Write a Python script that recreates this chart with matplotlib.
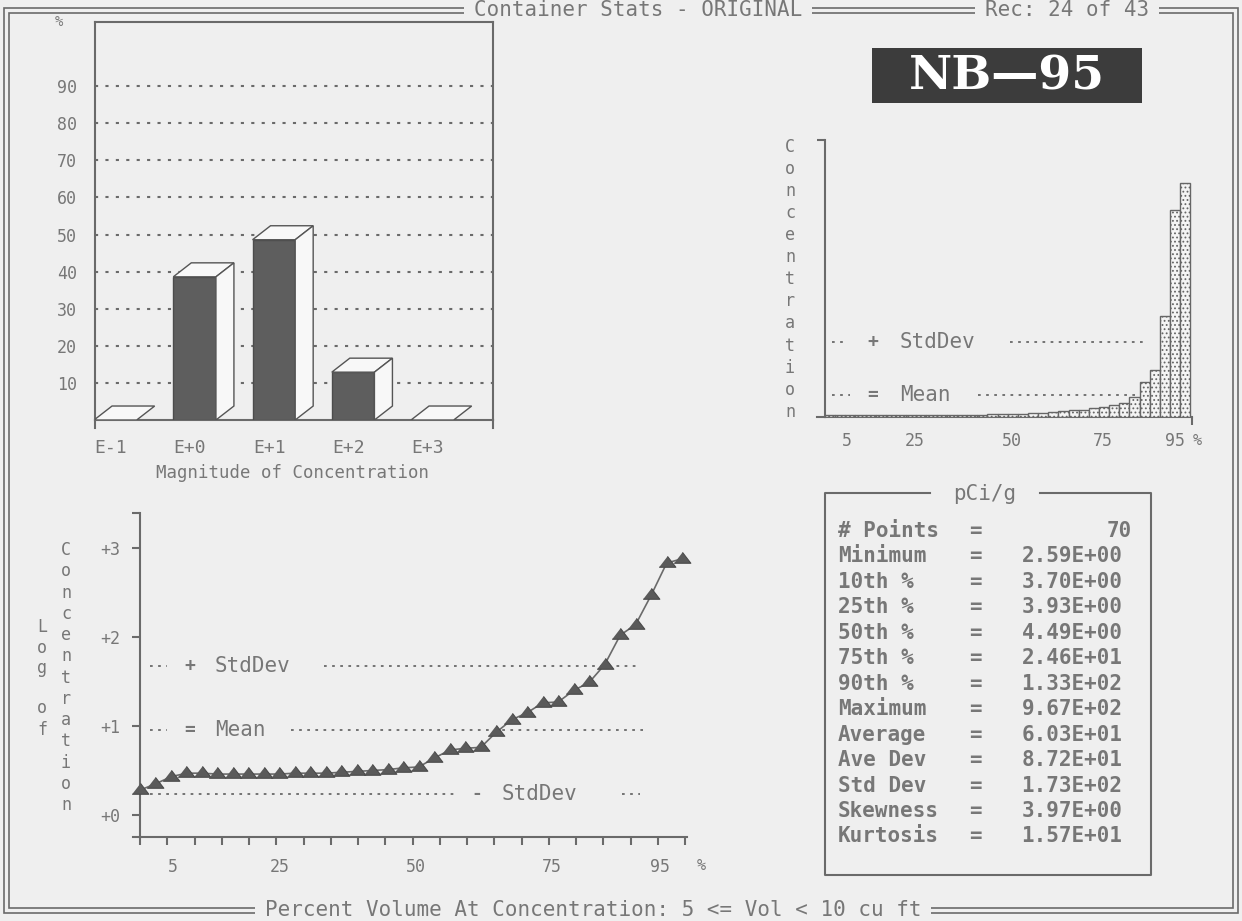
import matplotlib
matplotlib.use("Agg")
import matplotlib.pyplot as plt
from matplotlib.patches import Polygon, Rectangle
import numpy as np

W, H = 1242, 921
BG = '#efefef'
INK = '#6a6a6a'
TXT = '#777777'
MONO = 'DejaVu Sans Mono'
plt.rcParams['font.family'] = MONO
plt.rcParams['hatch.linewidth'] = 0.8

# --- data ---
mag_labels = ['E-1', 'E+0', 'E+1', 'E+2', 'E+3']
mag_pct = [0.0, 38.6, 48.6, 12.9, 0.0]

# sorted concentrations, linear (top right) and log (bottom left)
conc = [8, 8, 8, 8, 8, 8, 8, 8, 8, 8, 8, 8, 8, 8, 8, 8,
        12, 12, 12, 12, 17, 17, 21, 25, 29, 29, 37, 41, 50, 58,
        83, 145, 194, 417, 855, 967]
conc_mean = 91
conc_plus_sd = 308

log_conc = [0.28, 0.35, 0.43, 0.47, 0.47, 0.46, 0.46, 0.46, 0.46, 0.46,
            0.47, 0.47, 0.47, 0.48, 0.49, 0.50, 0.51, 0.53, 0.54, 0.64,
            0.73, 0.75, 0.76, 0.93, 1.07, 1.15, 1.26, 1.27, 1.40, 1.49,
            1.69, 2.02, 2.14, 2.47, 2.83, 2.88]
log_mean = 0.955
log_plus_sd = 1.67
log_minus_sd = 0.236

pct_labels = ['5', '25', '50', '75', '95']
pct_pos_lin = [2.14, 8.87, 18.39, 27.42, 34.48]
pct_pos_log = [2.11, 9.04, 17.8, 26.57, 33.6]

stat_names = ['# Points', 'Minimum', '10th %', '25th %', '50th %', '75th %',
              '90th %', 'Maximum', 'Average', 'Ave Dev', 'Std Dev',
              'Skewness', 'Kurtosis']
stat_values = ['70', '2.59E+00', '3.70E+00', '3.93E+00', '4.49E+00', '2.46E+01',
               '1.33E+02', '9.67E+02', '6.03E+01', '8.72E+01', '1.73E+02',
               '3.97E+00', '1.57E+01']

fig = plt.figure(figsize=(W / 100, H / 100), dpi=100, facecolor=BG)


def px_axes(x0, y0, x1, y1):
    a = fig.add_axes([x0 / W, 1 - y1 / H, (x1 - x0) / W, (y1 - y0) / H], zorder=1)
    a.set_facecolor('none')
    return a


# overlay in pixel coordinates for frame, headings and the stats panel
ov = fig.add_axes([0, 0, 1, 1], zorder=0)
ov.set_xlim(0, W)
ov.set_ylim(H, 0)
ov.axis('off')

for x0, y0, x1, y1 in [(4, 8, 1238, 913), (9, 13, 1233, 908)]:
    ov.add_patch(Rectangle((x0, y0), x1 - x0, y1 - y0, fill=False, ec=INK, lw=1.2))
mask = dict(fc=BG, ec='none', pad=7)
ov.text(638, 10, 'Container Stats - ORIGINAL', ha='center', va='center',
        fontsize=15, color=TXT, bbox=mask)
ov.text(1067, 10, 'Rec: 24 of 43', ha='center', va='center',
        fontsize=15, color=TXT, bbox=mask)
ov.text(593, 910, 'Percent Volume At Concentration: 5 <= Vol < 10 cu ft',
        ha='center', va='center', fontsize=15, color=TXT, bbox=mask)

# NB-95 tag
ov.add_patch(Rectangle((872, 48), 270, 55, fc='#3c3c3c', ec='none'))
ov.text(1007, 77, 'NB\u201495', ha='center', va='center', color='white',
        fontsize=34, family='DejaVu Serif', fontweight='bold')

# ---------------- top left: magnitude histogram (3D bars) ----------------
ax1 = px_axes(95, 22, 493, 420)
ax1.set_xlim(-0.257, 4.765)
ax1.set_ylim(0, 107.3)
for v in range(10, 100, 10):
    ax1.axhline(v, color=INK, ls=(0, (1.5, 3.5)), lw=1.5, zorder=1)
xpos = np.arange(len(mag_pct))
w, dx, dy = 0.538, 0.227, 3.77
ax1.bar(xpos, mag_pct, width=w, color='#5e5e5e', edgecolor='#4c4c4c', lw=1, zorder=3)
for x, h in zip(xpos, mag_pct):
    l, r = x - w / 2, x + w / 2
    ax1.add_patch(Polygon([(l, h), (r, h), (r + dx, h + dy), (l + dx, h + dy)],
                          closed=True, fc='#f8f8f8', ec='#555555', lw=1, zorder=3))
    if h > 0:
        ax1.add_patch(Polygon([(r, 0), (r + dx, dy), (r + dx, h + dy), (r, h)],
                              closed=True, fc='#f8f8f8', ec='#555555', lw=1, zorder=3))
for s in ax1.spines.values():
    s.set_color(INK)
    s.set_linewidth(1.5)
ax1.set_yticks(range(10, 100, 10))
ax1.tick_params(axis='y', length=0, pad=13, labelsize=12, labelcolor=TXT)
ax1.set_xticks(xpos - 0.06, mag_labels)
ax1.tick_params(axis='x', length=0, pad=14, labelsize=13, labelcolor=TXT)
ax1.set_xlabel('Magnitude of Concentration', fontsize=12.5, color=TXT, va='center')
ax1.xaxis.set_label_coords(0.495, -0.133)
ax1.text(-0.09, 1.0, '%', transform=ax1.transAxes, fontsize=10, color=TXT,
         ha='center', va='center')
for xa in (0, 1):
    ax1.plot([xa, xa], [0, -0.02], transform=ax1.transAxes, color=INK, lw=1.5, clip_on=False)

# ---------------- top right: sorted concentrations ----------------
ax2 = px_axes(825, 140, 1192, 417)
ax2.set_xlim(0, 36.16)
ax2.set_ylim(0, 1144)
ax2.bar(np.arange(len(conc)) + 0.5, conc, width=1.0, color='#f4f4f4',
        edgecolor='#666666', hatch='....', lw=1, zorder=3)
for s in ['top', 'right']:
    ax2.spines[s].set_visible(False)
for s in ['left', 'bottom']:
    ax2.spines[s].set_color(INK)
    ax2.spines[s].set_linewidth(1.5)
ax2.set_yticks([1144], [''])
ax2.tick_params(axis='y', length=6, width=1.5, color=INK)
ax2.set_xticks(pct_pos_lin, pct_labels)
ax2.tick_params(axis='x', length=0, pad=11, labelsize=12, labelcolor=TXT)
ax2.set_xticks([36.16], minor=True)
ax2.tick_params(axis='x', which='minor', length=6, width=1.5, color=INK)
ax2.plot([-0.8, 0], [0, 0], color=INK, lw=1.5, clip_on=False)
dot = (0, (1.5, 3))
ax2.plot([0.66, 2.14], [conc_plus_sd] * 2, color=INK, ls=dot, lw=1.3)
ax2.text(4.73, conc_plus_sd, '+', ha='center', va='center', fontsize=13,
         fontweight='bold', color=TXT)
ax2.text(7.39, conc_plus_sd, 'StdDev', ha='left', va='center', fontsize=15, color=TXT)
ax2.plot([18.23, 31.3], [conc_plus_sd] * 2, color=INK, ls=dot, lw=1.3)
ax2.plot([0.69, 2.46], [conc_mean] * 2, color=INK, ls=dot, lw=1.3)
ax2.text(4.73, conc_mean, '=', ha='center', va='center', fontsize=13,
         fontweight='bold', color=TXT)
ax2.text(7.39, conc_mean, 'Mean', ha='left', va='center', fontsize=15, color=TXT)
ax2.plot([15.07, 30.5], [conc_mean] * 2, color=INK, ls=dot, lw=1.3)
ov.text(1197, 440, '%', ha='center', va='center', fontsize=11, color=TXT)
for i, ch in enumerate('Concentration'):
    ov.text(790, 147 + 22.06 * i, ch, ha='center', va='center', fontsize=12, color=TXT)

# ---------------- bottom left: log concentration ----------------
ax3 = px_axes(140, 513, 686.8, 837)
ax3.set_xlim(0, 35.3)
ax3.set_ylim(-0.247, 3.393)
tri = [(-1, -0.45), (1, -0.45), (0, 0.85)]
ax3.plot(np.arange(len(log_conc)), log_conc, color='#6a6a6a', lw=1.2, marker=tri,
         ms=12, mfc='#5a5a5a', mec='#4a4a4a', mew=0.8, clip_on=False, zorder=4)
for s in ['top', 'right']:
    ax3.spines[s].set_visible(False)
for s in ['left', 'bottom']:
    ax3.spines[s].set_color(INK)
    ax3.spines[s].set_linewidth(1.5)
ax3.set_yticks([0, 1, 2, 3, 3.393], ['+0', '+1', '+2', '+3', ''])
ax3.tick_params(axis='y', length=6, width=1.5, color=INK, pad=8, labelsize=12, labelcolor=TXT)
ax3.set_xticks(np.linspace(0, 35.2, 21), [''] * 21)
ax3.tick_params(axis='x', length=6, width=1.5, color=INK)
ax3.set_xticks(pct_pos_log, pct_labels, minor=True)
ax3.tick_params(axis='x', which='minor', length=0, pad=15, labelsize=12, labelcolor=TXT)
ax3.plot([-0.45, 0], [-0.247, -0.247], color=INK, lw=1.5, clip_on=False)

ax3.plot([0.65, 1.74], [log_plus_sd] * 2, color=INK, ls=dot, lw=1.3)
ax3.text(3.23, log_plus_sd, '+', ha='center', va='center', fontsize=13,
         fontweight='bold', color=TXT)
ax3.text(4.84, log_plus_sd, 'StdDev', ha='left', va='center', fontsize=15, color=TXT)
ax3.plot([11.88, 32.28], [log_plus_sd] * 2, color=INK, ls=dot, lw=1.3, zorder=2)
ax3.plot([0.65, 1.74], [log_mean] * 2, color=INK, ls=dot, lw=1.3)
ax3.text(3.23, log_mean, '=', ha='center', va='center', fontsize=13,
         fontweight='bold', color=TXT)
ax3.text(4.84, log_mean, 'Mean', ha='left', va='center', fontsize=15, color=TXT)
ax3.plot([9.75, 32.47], [log_mean] * 2, color=INK, ls=dot, lw=1.3, zorder=2)
ax3.plot([0.65, 20.53], [log_minus_sd] * 2, color=INK, ls=dot, lw=1.3, zorder=2)
ax3.text(21.76, log_minus_sd, '-', ha='center', va='center', fontsize=13,
         fontweight='bold', color=TXT)
ax3.text(23.37, log_minus_sd, 'StdDev', ha='left', va='center', fontsize=15, color=TXT)
ax3.plot([31.1, 32.28], [log_minus_sd] * 2, color=INK, ls=dot, lw=1.3)
ov.text(701, 865, '%', ha='center', va='center', fontsize=11, color=TXT)
for i, ch in enumerate('Concentration'):
    ov.text(66, 550 + 21.25 * i, ch, ha='center', va='center', fontsize=12, color=TXT)
for ch, yy in zip('Logof', [627, 648, 668, 708, 730]):
    ov.text(42, yy, ch, ha='center', va='center', fontsize=12, color=TXT)

# ---------------- stats panel ----------------
ov.plot([930, 825, 825, 1151, 1151, 1040], [493, 493, 875, 875, 493, 493], color=INK, lw=1.5)
ov.text(985, 494, 'pCi/g', ha='center', va='center', fontsize=15, color=TXT)
for i, (name, val) in enumerate(zip(stat_names, stat_values)):
    yy = 531 + 25.45 * i
    ov.text(838, yy, name, ha='left', va='center', fontsize=15, fontweight='bold', color=TXT)
    ov.text(975, yy, '=', ha='center', va='center', fontsize=15, fontweight='bold', color=TXT)
    if i == 0:
        ov.text(1132, yy, val, ha='right', va='center', fontsize=15, fontweight='bold', color=TXT)
    else:
        ov.text(1072, yy, val, ha='center', va='center', fontsize=15, fontweight='bold', color=TXT)

fig.savefig('out.png', dpi=100, facecolor=BG)
